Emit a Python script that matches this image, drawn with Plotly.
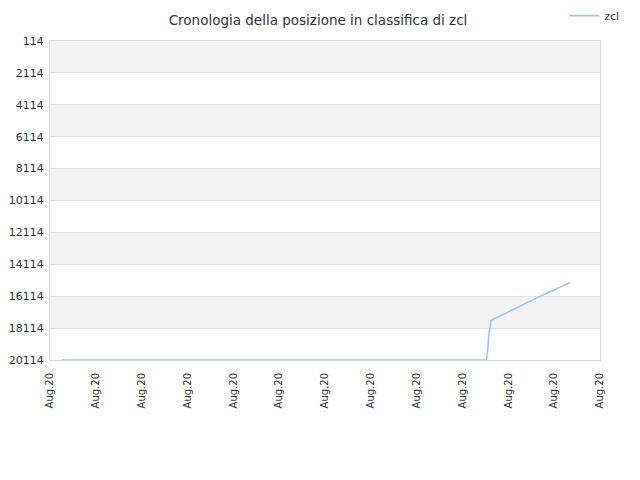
import plotly.graph_objs as go

# ranking history of zcl (lower number = better position)
dates = [
    '2020-08-01 06:15', '2020-08-05 12:00', '2020-08-10 12:40',
    '2020-08-10 13:10', '2020-08-10 13:50', '2020-08-10 15:00',
    '2020-08-10 19:00', '2020-08-10 23:00', '2020-08-11 03:00',
    '2020-08-11 07:00', '2020-08-11 11:00', '2020-08-11 15:00',
    '2020-08-11 19:00', '2020-08-11 23:00', '2020-08-12 03:00',
    '2020-08-12 08:20',
]
positions = [
    20114, 20114, 20114,
    19500, 18500, 17620,
    17380, 17150, 16920,
    16700, 16460, 16220,
    15990, 15760, 15540,
    15250,
]

y_ticks = list(range(114, 20115, 2000))
y_labels = [str(v) for v in y_ticks]
x_ticks = ['2020-08-%02d' % d for d in range(1, 14)]
x_labels = ['Aug.20'] * len(x_ticks)

font = 'DejaVu Sans, Verdana, sans-serif'

data = [go.Scatter(
    x=dates,
    y=positions,
    mode='lines',
    name='zcl',
    line=dict(color='#99c8f5', width=1.6),
)]

# alternating grey bands between the y ticks
shapes = []
for i in range(0, len(y_ticks) - 1, 2):
    shapes.append(dict(
        type='rect', xref='paper', yref='y', layer='below',
        x0=0, x1=1, y0=y_ticks[i], y1=y_ticks[i + 1],
        fillcolor='#f3f3f3', line=dict(width=0),
    ))

# page body has an 8px margin, so the figure is a bit smaller than the window
layout = go.Layout(
    title=dict(text='Cronologia della posizione in classifica di zcl',
               x=0.4905, xanchor='center', y=0.975, yanchor='middle',
               font=dict(family=font, size=13.5, color='#333333')),
    width=632, height=472,
    margin=dict(l=42, r=40, t=33, b=120, autoexpand=False),
    paper_bgcolor='white', plot_bgcolor='white',
    font=dict(family=font, size=11, color='#333333'),
    showlegend=True,
    legend=dict(x=0.935, xanchor='left', y=1.125, yanchor='top',
                font=dict(family=font, size=11, color='#333333'),
                bgcolor='rgba(0,0,0,0)', itemwidth=30),
    xaxis=dict(
        range=['2020-08-01', '2020-08-13'],
        tickvals=x_ticks, ticktext=x_labels, tickangle=-90,
        tickfont=dict(size=10, color='#333333'),
        showgrid=False, zeroline=False, automargin=False,
        showline=True, linecolor='#d9d9d9', mirror=True,
        ticks='', ticklabelstandoff=8,
    ),
    yaxis=dict(
        range=[20114, 114],
        tickvals=y_ticks, ticktext=y_labels,
        tickfont=dict(size=11, color='#333333'),
        showgrid=True, gridcolor='#e0e0e0', zeroline=False, automargin=False,
        showline=True, linecolor='#d9d9d9', mirror=True,
        ticks='', ticklabelstandoff=3,
    ),
    shapes=shapes,
)

fig = go.Figure(data=data, layout=layout)
fig.write_html('out.html')
